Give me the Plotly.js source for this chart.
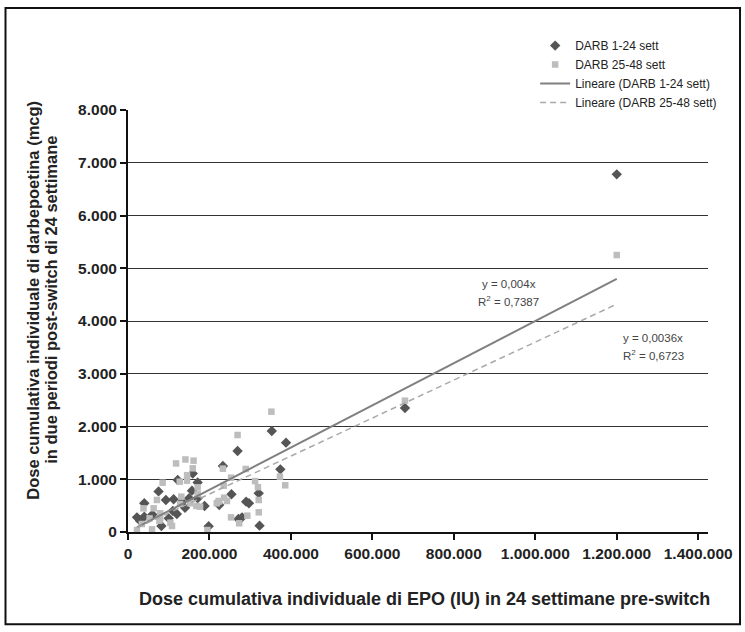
<!DOCTYPE html>
<html>
<head>
<meta charset="utf-8">
<script src="https://cdn.plot.ly/plotly-3.0.1.min.js"></script>
<style>
  html, body { margin: 0; padding: 0; background: #fff; }
  #chart { width: 745px; height: 632px; }
</style>
</head>
<body>
<div id="chart"></div>
<script>
// ---- Data ----
const seriesNames = ['DARB 1-24 sett', 'DARB 25-48 sett'];
const trendNames = ['Lineare (DARB 1-24 sett)', 'Lineare (DARB 25-48 sett)'];

// DARB 1-24 sett (diamonds)
const darb1X = [1200000, 680000, 353000, 388000, 269000, 233000, 374000, 159000, 122000, 171000,
                75000, 157000, 321000, 254000, 171000, 112000, 93000, 132000, 150000, 40000,
                188000, 290000, 297000, 224000, 22000, 40000, 100000, 82000, 198000, 271000,
                280000, 323000, 30000, 110000, 140000, 60000, 120000];
const darb1Y = [6780, 2350, 1915, 1694, 1536, 1251, 1188, 1110, 985, 940,
                770, 784, 733, 715, 639, 620, 607, 575, 640, 544,
                493, 575, 544, 512, 278, 291, 259, 114, 110, 246,
                278, 120, 210, 400, 460, 330, 340];

// DARB 25-48 sett (squares)
const darb2X = [1200000, 680000, 352000, 269000, 141000, 161000, 118000, 159000, 233000, 289000,
                145000, 373000, 253000, 312000, 127000, 145000, 85000, 386000, 319000, 235000,
                171000, 171000, 131000, 236000, 71000, 321000, 243000, 224000, 222000, 153000,
                218000, 128000, 177000, 168000, 38000, 63000, 79000, 321000, 293000, 253000,
                273000, 53000, 79000, 77000, 104000, 34000, 108000, 22000, 59000, 195000];
const darb2Y = [5250, 2490, 2281, 1839, 1375, 1352, 1300, 1207, 1201, 1194,
                1075, 1049, 1030, 965, 954, 973, 935, 885, 850, 878,
                847, 720, 670, 650, 607, 607, 588, 588, 575, 544,
                544, 531, 480, 493, 449, 449, 354, 373, 310, 278,
                165, 259, 259, 215, 177, 152, 114, 38, 51, 38];

// Linear trendlines through the origin (Excel "Lineare")
const trendSlopes = [0.004, 0.0036];
const trendR2 = [0.7387, 0.6723];
const trendSlopeText = ['0,004', '0,0036'];
const trendR2Text = ['0,7387', '0,6723'];

// Axis ticks
const xTickVals = [0, 200000, 400000, 600000, 800000, 1000000, 1200000, 1400000];
const xTickText = ['0', '200.000', '400.000', '600.000', '800.000', '1.000.000', '1.200.000', '1.400.000'];
const yTickVals = [0, 1000, 2000, 3000, 4000, 5000, 6000, 7000, 8000];
const yTickText = ['0', '1.000', '2.000', '3.000', '4.000', '5.000', '6.000', '7.000', '8.000'];

// Axis titles
const xTitle = 'Dose cumulativa individuale di EPO (IU) in 24 settimane pre-switch';
const yTitleLines = ['Dose cumulativa individuale di darbepoetina (mcg)',
                     'in due periodi post-switch di 24 settimane'];

// ---- Traces ----
function trendTrace(xs, slope, name, style) {
  const x0 = Math.min.apply(null, xs), x1 = Math.max.apply(null, xs);
  return {
    x: [x0, x1], y: [slope * x0, slope * x1],
    type: 'scatter', mode: 'lines', name: name,
    line: style, hoverinfo: 'skip'
  };
}

const traces = [
  {
    x: darb1X, y: darb1Y, type: 'scatter', mode: 'markers', name: seriesNames[0],
    marker: { symbol: 'diamond', size: 8, color: '#555555' }
  },
  {
    x: darb2X, y: darb2Y, type: 'scatter', mode: 'markers', name: seriesNames[1],
    marker: { symbol: 'square', size: 6.5, color: '#bdbdbd' }
  },
  trendTrace(darb1X, trendSlopes[0], trendNames[0], { color: '#808080', width: 2 }),
  trendTrace(darb2X, trendSlopes[1], trendNames[1], { color: '#a9a9a9', width: 1.5, dash: '6px,4px' })
];

const FONT = 'Liberation Sans, Arial, Helvetica, sans-serif';

const layout = {
  width: 745, height: 632,
  margin: { l: 128, r: 37, t: 110, b: 100, pad: 0 },
  paper_bgcolor: '#ffffff', plot_bgcolor: '#ffffff',
  font: { family: FONT, color: '#222222' },
  showlegend: true,
  legend: {
    x: 0.702, y: 1.187, xanchor: 'left', yanchor: 'top',
    font: { family: FONT, size: 12, color: '#222222' },
    bgcolor: 'rgba(255,255,255,0)', borderwidth: 0
  },
  xaxis: {
    range: [0, 1424000],
    tickvals: xTickVals, ticktext: xTickText,
    tickfont: { family: FONT, size: 15.5, color: '#222222', weight: 'bold' },
    showline: true, linecolor: '#111111', linewidth: 2,
    ticks: 'outside', ticklen: 6, tickwidth: 2, tickcolor: '#111111',
    showgrid: false, zeroline: false
  },
  yaxis: {
    range: [0, 8000],
    tickvals: yTickVals, ticktext: yTickText,
    tickfont: { family: FONT, size: 15.5, color: '#222222', weight: 'bold' },
    showline: true, linecolor: '#111111', linewidth: 2,
    ticks: 'outside', ticklen: 6, tickwidth: 2, tickcolor: '#111111',
    showgrid: true, gridcolor: '#333333', gridwidth: 1, zeroline: false
  },
  annotations: [
    {
      xref: 'paper', yref: 'paper', x: -0.164, y: 0.55, xanchor: 'center', yanchor: 'middle',
      textangle: -90, showarrow: false, text: yTitleLines[0],
      font: { family: FONT, size: 16.5, color: '#222222', weight: 'bold' }
    },
    {
      xref: 'paper', yref: 'paper', x: -0.133, y: 0.55, xanchor: 'center', yanchor: 'middle',
      textangle: -90, showarrow: false, text: yTitleLines[1],
      font: { family: FONT, size: 16.5, color: '#222222', weight: 'bold' }
    },
    {
      xref: 'paper', yref: 'paper', x: 0.512, y: -0.159, xanchor: 'center', yanchor: 'middle',
      showarrow: false, text: xTitle,
      font: { family: FONT, size: 18, color: '#222222', weight: 'bold' }
    },
    {
      xref: 'x', yref: 'y', x: 935000, y: 4700, xanchor: 'center', yanchor: 'middle', showarrow: false,
      text: 'y = ' + trendSlopeText[0] + 'x', font: { family: FONT, size: 11.5, color: '#444444' }
    },
    {
      xref: 'x', yref: 'y', x: 935000, y: 4370, xanchor: 'center', yanchor: 'middle', showarrow: false,
      text: 'R<sup>2</sup> = ' + trendR2Text[0], font: { family: FONT, size: 11.5, color: '#444444' }
    },
    {
      xref: 'x', yref: 'y', x: 1290000, y: 3680, xanchor: 'center', yanchor: 'middle', showarrow: false,
      text: 'y = ' + trendSlopeText[1] + 'x', font: { family: FONT, size: 11.5, color: '#444444' }
    },
    {
      xref: 'x', yref: 'y', x: 1290000, y: 3350, xanchor: 'center', yanchor: 'middle', showarrow: false,
      text: 'R<sup>2</sup> = ' + trendR2Text[1], font: { family: FONT, size: 11.5, color: '#444444' }
    }
  ],
  shapes: [
    {
      type: 'rect', xref: 'paper', yref: 'paper',
      x0: -0.2112, x1: 1.0552, y0: -0.2185, y1: 1.2417,
      line: { color: '#111111', width: 2 }, fillcolor: 'rgba(0,0,0,0)', layer: 'below'
    }
  ]
};

Plotly.newPlot('chart', traces, layout, { displayModeBar: false, staticPlot: true });
</script>
</body>
</html>
